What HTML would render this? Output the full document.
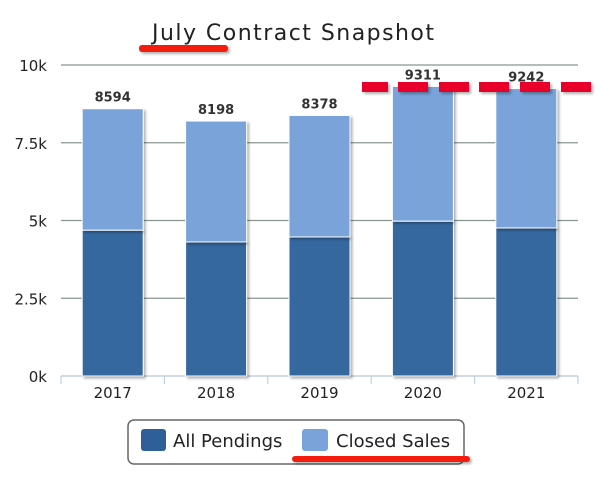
<!DOCTYPE html>
<html><head><meta charset="utf-8"><style>
body{margin:0;background:#fff;}
svg text{font-family:"DejaVu Sans","Liberation Sans",sans-serif;}
</style></head><body>
<svg id="chart" width="616" height="487" viewBox="0 0 616 487" xmlns="http://www.w3.org/2000/svg">
<defs>
<filter id="sh" x="-20%" y="-20%" width="150%" height="150%"><feDropShadow dx="2" dy="2" stdDeviation="1.2" flood-color="#000" flood-opacity="0.3"/></filter>
</defs>
<text x="293" y="40" text-anchor="middle" font-size="22" fill="#222" textLength="282">July Contract Snapshot</text>
<g id="grid"></g><g id="bars"></g><g id="labels"></g>
<g>
<rect x="128" y="420" width="336" height="44" rx="6" fill="#fff" stroke="#666" stroke-width="1.5"/>
<rect x="141" y="429" width="25" height="22" rx="3" fill="#2f5f98"/>
<text x="173" y="447" font-size="18" fill="#222">All Pendings</text>
<rect x="302" y="429" width="26" height="22" rx="3" fill="#79a3d9"/>
<text x="336" y="447" font-size="18" fill="#222">Closed Sales</text>
</g>
<g filter="url(#sh)">
<rect x="139" y="45" width="89" height="7" rx="3" fill="#f41a0a"/>
<rect x="292" y="456" width="178" height="6" rx="3" fill="#f41a0a"/>
<g fill="#e8002a">
<rect x="362" y="82" width="26" height="10"/><rect x="398" y="82" width="30" height="10"/><rect x="439" y="82" width="30" height="10"/>
<rect x="479" y="82" width="30" height="10"/><rect x="520" y="82" width="30" height="10"/><rect x="561" y="82" width="30" height="10"/>
</g>
</g>
</svg>
<script>
const categories=["2017","2018","2019","2020","2021"];
const totals=[8594,8198,8378,9311,9242];
const pendings=[4690,4310,4470,4980,4760];
const closedSales=totals.map((t,i)=>t-pendings[i]);
const yTicks=[0,2500,5000,7500,10000];
const yTickLabels=["0k","2.5k","5k","7.5k","10k"];
const NS="http://www.w3.org/2000/svg";
const x0=61,x1=578,y0=376,y1=65,yMax=10000;
const band=(x1-x0)/categories.length;
function y(v){return y0-(v/yMax)*(y0-y1);}
function xc(i){return x0+band*(i+0.5);}
function mk(tag,attrs,parent,txt){const e=document.createElementNS(NS,tag);for(const k in attrs)e.setAttribute(k,attrs[k]);if(txt!==undefined)e.textContent=txt;parent.appendChild(e);return e;}
const grid=document.getElementById('grid'),bars=document.getElementById('bars'),labels=document.getElementById('labels');
yTicks.forEach((t,i)=>{
  if(t>0){const l=mk('line',{x1:x0,x2:x1,y1:y(t),y2:y(t),stroke:'#8a9590','stroke-width':1.2},grid);
  
  }
  const tx=mk('text',{x:47,y:y(t)+6,'text-anchor':'end','font-size':15,fill:'#222'},grid,yTickLabels[i]);
  
  
});
const ax=mk('line',{x1:x0,x2:x1,y1:y0,y2:y0,stroke:'#c0d0e0','stroke-width':1.5},grid);


for(let i=0;i<=categories.length;i++){const tk=mk('line',{x1:x0+band*i,x2:x0+band*i,y1:y0,y2:y0+8,stroke:'#c0d0e0','stroke-width':1.2},grid);

}
const bw=61;
categories.forEach((c,i)=>{
  const bx=xc(i)-bw/2;
  const p=mk('rect',{x:bx,y:y(pendings[i]),width:bw,height:y0-y(pendings[i]),fill:'#36689f',stroke:'#fff','stroke-width':1,filter:'url(#sh)'},bars);
  
  
  const s=mk('rect',{x:bx,y:y(totals[i]),width:bw,height:y(pendings[i])-y(totals[i]),fill:'#79a3d9',stroke:'#fff','stroke-width':1,filter:'url(#sh)'},bars);
  
  
  const v=mk('text',{x:xc(i),y:y(totals[i])-7,'text-anchor':'middle','font-size':13,'font-weight':'bold',fill:'#333'},labels,String(totals[i]));
  
  
  const xl=mk('text',{x:xc(i),y:398,'text-anchor':'middle','font-size':15,fill:'#222'},labels,c);
  
  
});
</script>
</body></html>
